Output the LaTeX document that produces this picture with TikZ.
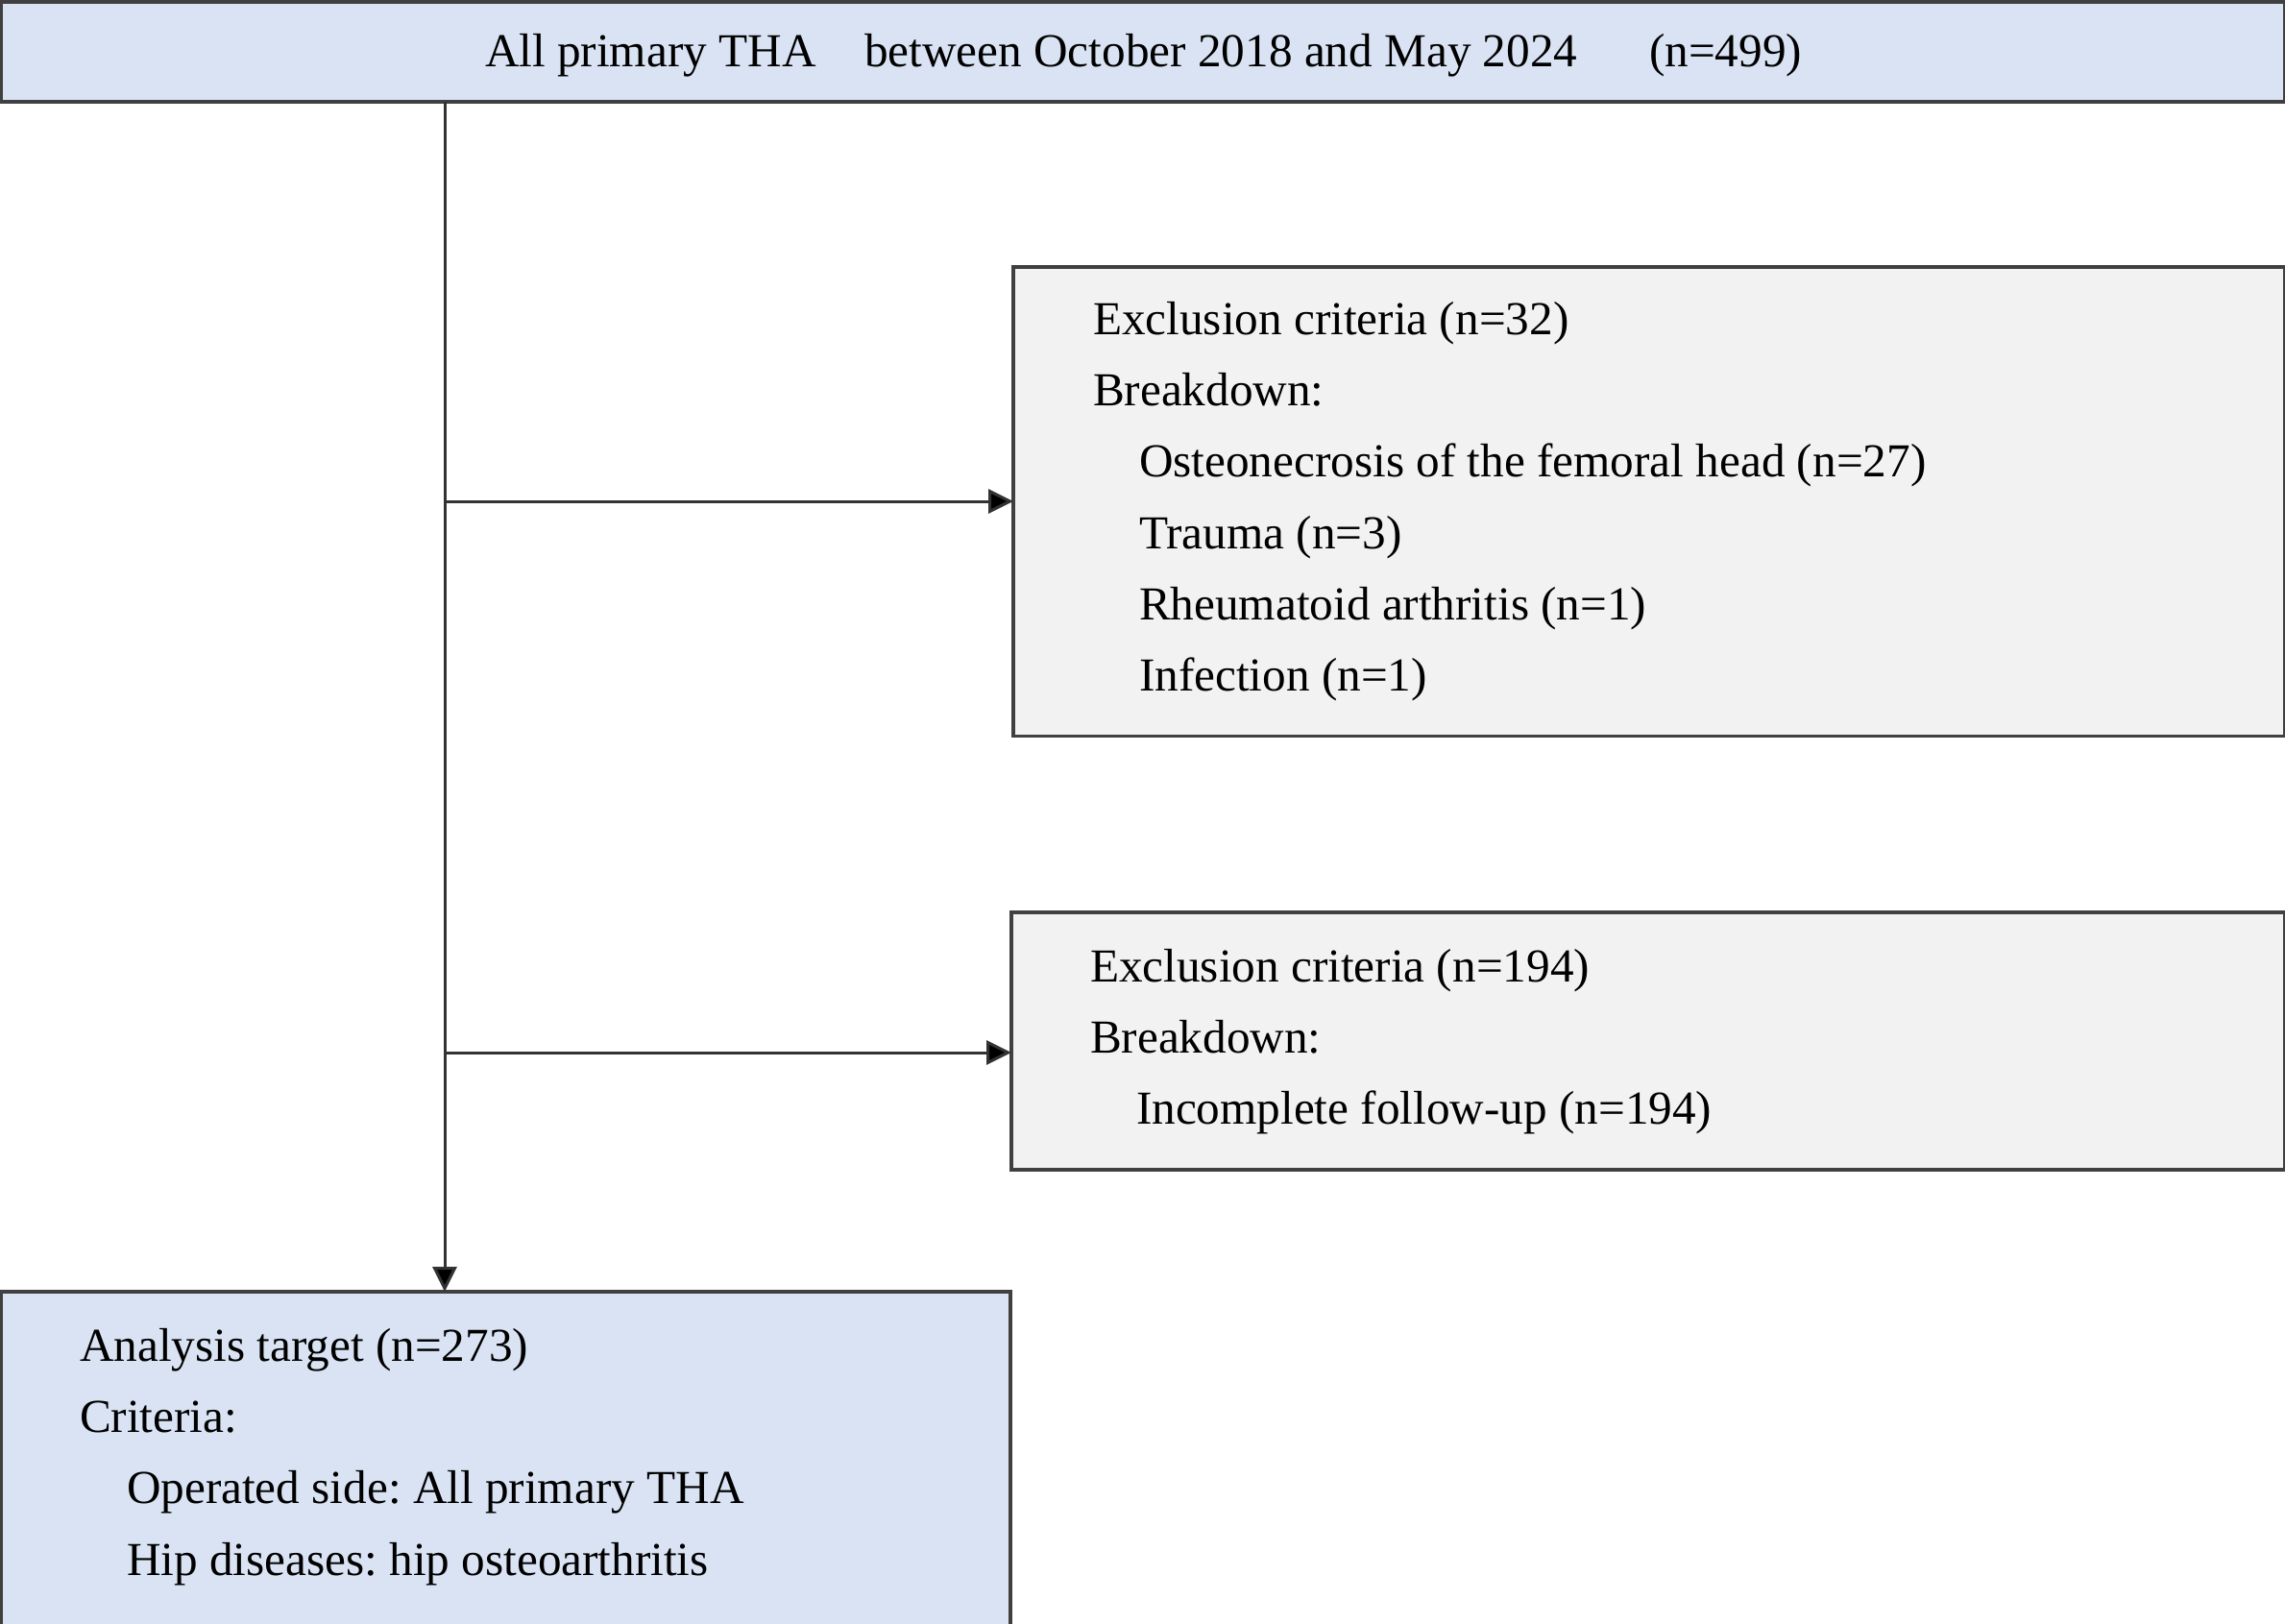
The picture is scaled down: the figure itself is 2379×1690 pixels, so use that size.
\documentclass[tikz,border=0pt]{standalone}
\usepackage{fontspec}
\setmainfont{Liberation Serif}
\usetikzlibrary{arrows.meta}
\frenchspacing
\definecolor{boxblue}{HTML}{DAE3F3}
\definecolor{boxgray}{HTML}{F2F2F2}
\definecolor{edgegray}{HTML}{404040}
\definecolor{linegray}{HTML}{333333}
\tikzset{
  flowbox/.style={draw=edgegray, line width=0.035cm, anchor=north west, inner sep=0pt, outer sep=0pt},
  bluebox/.style={flowbox, fill=boxblue},
  graybox/.style={flowbox, fill=boxgray},
  txt/.style={anchor=base west, inner sep=0pt, outer sep=0pt, font=\fontsize{14pt}{16pt}\selectfont\frenchspacing, text=black},
  conn/.style={draw=linegray, line width=0.03cm, -{Triangle[length=0.26cm, width=0.25cm, fill=black]}},
}
\begin{document}
\begin{tikzpicture}[x=0.01cm, y=-0.01cm]
\useasboundingbox (0,0) rectangle (2379,1690);
\clip (0,0) rectangle (2379,1690);
% boxes
\node[bluebox, minimum width=23.76cm, minimum height=1.04cm] (top) at (1.5,2) {};
\node[graybox, minimum width=13.23cm, minimum height=4.88cm] (b2) at (1055,278) {};
\node[graybox, minimum width=13.25cm, minimum height=2.68cm] (b3) at (1053,950) {};
\node[bluebox, minimum width=10.5cm, minimum height=4.0cm] (b4) at (1.5,1345) {};
% top text
\node[txt] (t1) at (505,69) {All primary THA};
\node[txt] (t2) at (900,69) {between October 2018 and May 2024};
\node[txt] (t3) at (1717,69) {(n=499)};
% box 2 text
\node[txt] (e1) at (1138,348) {Exclusion criteria (n=32)};
\node[txt] (e2) at (1138,422) {Breakdown:};
\node[txt] (e3) at (1186,496) {Osteonecrosis of the femoral head (n=27)};
\node[txt] (e4) at (1186,571) {Trauma (n=3)};
\node[txt] (e5) at (1186,645) {Rheumatoid arthritis (n=1)};
\node[txt] (e6) at (1186,719) {Infection (n=1)};
% box 3 text
\node[txt] (f1) at (1135,1022) {Exclusion criteria (n=194)};
\node[txt] (f2) at (1135,1096) {Breakdown:};
\node[txt] (f3) at (1183,1170) {Incomplete follow-up (n=194)};
% box 4 text
\node[txt] (g1) at (83,1417) {Analysis target (n=273)};
\node[txt] (g2) at (83,1491) {Criteria:};
\node[txt] (g3) at (132,1565) {Operated side: All primary THA};
\node[txt] (g4) at (132,1640) {Hip diseases: hip osteoarthritis};
% connectors
\coordinate (v) at (463,0);
\coordinate (a1) at (1055,522);
\coordinate (a2) at (1053,1096);
\draw[conn] (top.south -| v) -- (b4.north -| v);
\draw[conn] (v |- a1) -- (a1 -| b2.west);
\draw[conn] (v |- a2) -- (a2 -| b3.west);
\end{tikzpicture}
\end{document}
